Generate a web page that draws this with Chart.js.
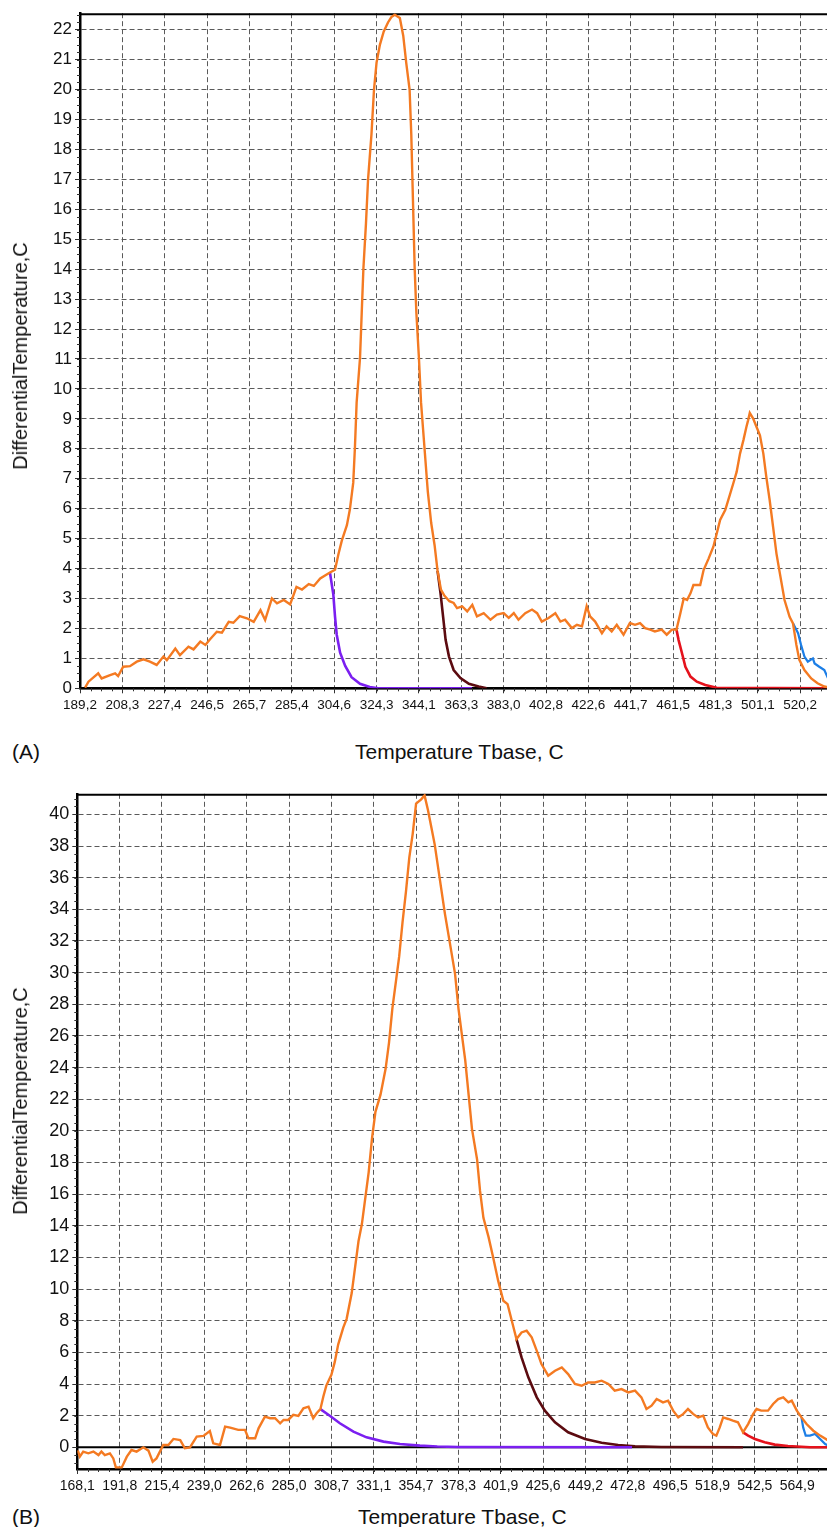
<!DOCTYPE html>
<html>
<head>
<meta charset="utf-8">
<script src="https://cdn.jsdelivr.net/npm/chart.js@4.4.1/dist/chart.umd.min.js"></script>
<style>
  html, body { margin: 0; padding: 0; background: #fff; overflow: hidden; }
  body { width: 827px; height: 1527px; position: relative; font-family: "Liberation Sans", Arial, sans-serif; color: #111; }
  canvas { position: absolute; left: 0; }
  .txt { position: absolute; white-space: nowrap; font-size: 21px; line-height: 1; }
  .ytitle { position: absolute; white-space: nowrap; font-size: 20px; line-height: 1; transform: translate(-50%, -50%) rotate(-90deg); }
</style>
</head>
<body>
<canvas id="chartA" width="830" height="725" style="top:0"></canvas>
<canvas id="chartB" width="830" height="725" style="top:780px"></canvas>

<div class="ytitle" style="left:20px; top:356px">DifferentialTemperature,C</div>
<div class="txt" style="left:12px; top:741px">(A)</div>
<div class="txt" style="left:355px; top:741px">Temperature Tbase, C</div>

<div class="ytitle" style="left:20px; top:1101px">DifferentialTemperature,C</div>
<div class="txt" style="left:12px; top:1506px">(B)</div>
<div class="txt" style="left:358px; top:1506px">Temperature Tbase, C</div>

<script>
// x values are sample positions in grid-step units; tick labels give Tbase at each step
const labelsA = ['189,2','208,3','227,4','246,5','265,7','285,4','304,6','324,3','344,1','363,3',
                 '383,0','402,8','422,6','441,7','461,5','481,3','501,1','520,2'];
const labelsB = ['168,1','191,8','215,4','239,0','262,6','285,0','308,7','331,1','354,7','378,3',
                 '401,9','425,6','449,2','472,8','496,5','518,9','542,5','564,9'];

// ---- panel A ----
const totalA = [[0.12,0.02],[0.2,0.22],[0.43,0.5],[0.51,0.33],[0.71,0.44],[0.83,0.5],[0.9,0.41],[1.02,0.72],
  [1.18,0.74],[1.34,0.89],[1.5,0.97],[1.65,0.89],[1.81,0.78],[1.97,1.06],[2.05,0.94],[2.25,1.33],[2.36,1.11],
  [2.56,1.39],[2.68,1.3],[2.84,1.56],[2.96,1.45],[3.07,1.64],[3.23,1.89],[3.35,1.86],[3.51,2.22],[3.62,2.19],
  [3.77,2.41],[3.94,2.34],[4.1,2.22],[4.26,2.61],[4.37,2.28],[4.53,3.0],[4.65,2.84],[4.81,2.95],[4.96,2.8],
  [5.11,3.39],[5.24,3.3],[5.4,3.48],[5.52,3.42],[5.67,3.67],[5.9,3.87],
  [6.02,3.96],[6.1,4.48],[6.18,4.93],[6.3,5.45],[6.37,5.97],[6.45,6.87],[6.49,8.06],[6.53,9.55],[6.61,11.04],
  [6.65,12.54],[6.69,14.03],[6.75,15.52],[6.8,17.01],[6.88,18.5],[6.94,20.0],[7.0,20.9],[7.08,21.5],[7.17,21.94],
  [7.27,22.24],[7.35,22.42],[7.43,22.5],[7.55,22.39],[7.63,21.8],[7.7,20.9],[7.78,20.0],[7.82,18.5],[7.86,16.27],
  [7.9,14.03],[7.94,12.54],[8.0,11.04],[8.05,9.55],[8.13,8.06],[8.21,6.57],[8.29,5.52],[8.37,4.78],[8.44,3.92],
  [8.52,3.3],[8.6,3.1],[8.72,2.91],[8.82,2.85],[8.9,2.68],[9.02,2.74],[9.14,2.57],[9.26,2.79],[9.37,2.4],
  [9.53,2.51],[9.69,2.29],[9.84,2.46],[10.0,2.51],[10.12,2.35],[10.24,2.51],[10.35,2.29],[10.51,2.51],
  [10.67,2.63],[10.79,2.51],[10.9,2.23],[11.06,2.35],[11.22,2.51],[11.34,2.23],[11.45,2.29],[11.61,2.01],
  [11.73,2.12],[11.85,2.07],[11.96,2.74],[12.04,2.4],[12.16,2.23],[12.32,1.84],[12.43,2.07],[12.55,1.9],
  [12.67,2.12],[12.83,1.79],[12.98,2.18],[13.1,2.12],[13.22,2.18],[13.34,2.01],[13.46,1.96],[13.57,1.9],
  [13.73,1.96],[13.85,1.79],[13.97,1.96],[14.08,1.96],
  [14.17,2.5],[14.25,3.0],[14.33,2.95],[14.41,3.17],[14.48,3.45],[14.64,3.45],[14.72,3.95],[14.84,4.34],
  [14.95,4.73],[15.03,5.17],[15.11,5.62],[15.23,5.95],[15.3,6.28],[15.42,6.84],[15.5,7.23],[15.58,7.84],
  [15.66,8.29],[15.73,8.73],[15.77,8.95],[15.81,9.2],[15.89,9.01],[15.97,8.73],[16.05,8.45],[16.13,7.84],
  [16.2,7.06],[16.28,6.28],[16.36,5.39],[16.44,4.5],[16.52,3.84],[16.63,2.95],[16.75,2.39],[16.83,2.17],
  [16.91,1.45],[16.98,0.95],[17.1,0.61],[17.26,0.33],[17.41,0.17],[17.57,0.06],[17.7,0.02]];
const peak1A = [[5.9,3.87],[5.98,3.13],[6.02,2.39],[6.06,1.79],[6.14,1.19],[6.26,0.75],[6.41,0.37],
  [6.61,0.15],[6.84,0.04],[7.04,0],[9.25,0]];
const peak2A = [[8.44,3.92],[8.51,3.18],[8.57,2.4],[8.63,1.62],[8.71,1.06],[8.82,0.61],[8.98,0.34],
  [9.18,0.15],[9.41,0.06],[9.6,0]];
const peak3A = [[14.08,1.96],[14.13,1.61],[14.21,1.17],[14.29,0.72],[14.41,0.39],[14.56,0.22],[14.76,0.11],
  [15.03,0.02],[17.7,0]];
const peak4A = [[16.83,2.17],[16.95,1.84],[17.02,1.45],[17.1,1.06],[17.18,0.89],[17.3,1.0],[17.34,0.83],
  [17.45,0.72],[17.57,0.61],[17.66,0.33],[17.72,0.1]];

// ---- panel B ----
const totalB = [[0,-0.2],[0.02,-0.27],[0.06,-0.59],[0.14,-0.27],[0.26,-0.38],[0.38,-0.27],[0.5,-0.49],
  [0.57,-0.27],[0.65,-0.49],[0.77,-0.38],[0.85,-0.7],[0.91,-1.27],[1.05,-1.27],[1.17,-0.59],[1.28,-0.17],
  [1.4,-0.27],[1.56,0],[1.68,-0.21],[1.78,-0.91],[1.87,-0.7],[2.03,0.15],[2.15,0.15],[2.27,0.53],[2.43,0.46],
  [2.54,-0.06],[2.66,0],[2.82,0.68],[2.98,0.72],[3.13,1.03],[3.21,0.25],[3.37,0.15],[3.49,1.31],[3.61,1.24],
  [3.8,1.1],[3.96,1.1],[4.04,0.57],[4.2,0.57],[4.28,1.2],[4.43,1.94],[4.55,1.84],[4.67,1.84],[4.79,1.52],
  [4.87,1.73],[4.98,1.73],[5.1,2.05],[5.22,1.98],[5.34,2.47],[5.46,2.57],[5.57,1.84],[5.65,2.15],[5.74,2.41],
  [5.81,3.21],[5.88,3.9],[6.0,4.58],[6.08,5.4],[6.16,6.49],[6.28,7.57],[6.36,8.12],[6.48,9.75],[6.56,11.39],
  [6.64,13.02],[6.72,14.11],[6.8,15.75],[6.88,17.38],[6.96,19.56],[7.04,21.2],[7.16,22.29],[7.28,23.92],
  [7.36,25.56],[7.44,27.74],[7.52,29.37],[7.6,31.01],[7.68,33.19],[7.76,35.1],[7.84,37.28],[7.92,38.77],
  [8.0,40.68],[8.12,40.95],[8.2,41.2],[8.28,40.27],[8.36,39.18],[8.44,38.09],[8.56,35.91],[8.68,33.73],
  [8.8,31.83],[8.92,29.92],[9.0,27.74],[9.08,26.1],[9.16,24.47],[9.24,22.29],[9.32,20.11],[9.44,18.2],
  [9.51,16.2],[9.59,14.5],[9.71,13.3],[9.82,12.0],[9.94,10.5],[10.06,9.26],[10.16,9.05],[10.26,8.0],
  [10.37,6.84],[10.49,7.26],[10.61,7.37],[10.73,6.95],[10.85,6.1],[10.96,5.26],[11.12,4.53],[11.28,4.84],
  [11.44,5.05],[11.59,4.63],[11.75,4.0],[11.91,3.89],[12.06,4.1],[12.22,4.1],[12.38,4.21],[12.54,4.0],
  [12.69,3.58],[12.85,3.68],[13.01,3.47],[13.17,3.58],[13.32,3.16],[13.44,2.42],[13.56,2.63],[13.68,3.05],
  [13.83,2.84],[13.95,2.95],[14.07,2.32],[14.19,1.89],[14.31,2.11],[14.42,2.42],[14.54,2.11],[14.66,1.89],
  [14.78,2.0],[14.89,1.26],[15.01,0.84],[15.09,0.74],[15.17,1.26],[15.25,1.89],[15.37,1.79],[15.48,1.68],
  [15.6,1.58],[15.72,0.95],[15.84,1.47],[15.96,2.11],[16.04,2.42],[16.15,2.32],[16.31,2.32],[16.43,2.74],
  [16.55,3.05],[16.67,3.16],[16.79,2.84],[16.87,2.95],[16.99,2.32],[17.1,1.89],[17.22,1.47],[17.38,1.05],
  [17.54,0.74],[17.74,0.42]];
const peak1B = [[5.74,2.41],[5.97,1.98],[6.2,1.52],[6.52,0.99],[6.83,0.63],[7.23,0.36],[7.62,0.21],
  [8.09,0.11],[8.5,0.05],[9.0,0.02],[13.1,0]];
const peak2B = [[10.37,6.84],[10.49,5.68],[10.65,4.42],[10.85,3.16],[11.04,2.32],[11.28,1.58],[11.59,0.95],
  [11.99,0.53],[12.38,0.29],[12.77,0.15],[13.17,0.06],[13.79,0.02],[15.72,0]];
const peak3B = [[15.72,0.95],[15.84,0.74],[16.0,0.53],[16.23,0.32],[16.47,0.17],[16.78,0.08],[17.1,0.04],
  [17.3,0],[17.74,0]];
const peak4B = [[17.1,1.89],[17.14,1.26],[17.2,0.74],[17.3,0.74],[17.42,0.84],[17.54,0.53],[17.66,0.21],[17.74,0.1]];

const colors = { total: '#f47a22', p1: '#7b1ff0', p2: '#5c0b10', p3: '#e5121c', p4: '#1c7ee6' };

// frame: top border, solid zero line and small minor ticks on both axes
const framePlugin = {
  id: 'frame',
  beforeDatasetsDraw(chart, args, opts) {
    const { ctx, chartArea: a, scales: { x, y } } = chart;
    ctx.save();
    ctx.strokeStyle = '#000';
    ctx.lineWidth = 2;
    ctx.beginPath();
    ctx.moveTo(a.left, a.top + 1);
    ctx.lineTo(a.right, a.top + 1);
    const y0 = y.getPixelForValue(0);
    ctx.moveTo(a.left, y0);
    ctx.lineTo(a.right, y0);
    ctx.stroke();

    ctx.strokeStyle = '#333';
    ctx.lineWidth = 1;
    ctx.beginPath();
    for (let v = 0; v <= x.max; v += opts.xMinor) {
      const px = Math.round(x.getPixelForValue(v)) + 0.5;
      ctx.moveTo(px, a.bottom);
      ctx.lineTo(px, a.bottom + 3);
    }
    for (let v = Math.ceil(y.min / opts.yMinor) * opts.yMinor; v <= y.max; v += opts.yMinor) {
      const py = Math.round(y.getPixelForValue(v)) + 0.5;
      ctx.moveTo(a.left - 3, py);
      ctx.lineTo(a.left, py);
    }
    ctx.stroke();
    ctx.restore();
  }
};

function series(pts, color, width, order) {
  return {
    data: pts.map(p => ({ x: p[0], y: p[1] })),
    borderColor: color, borderWidth: width, pointRadius: 0, tension: 0, fill: false, order: order
  };
}

function makeChart(id, o) {
  const font = { family: '"Liberation Sans", Arial, sans-serif' };
  const gridOpts = { color: '#5a5a5a', lineWidth: 1, tickLength: 5, tickColor: '#333' };
  return new Chart(document.getElementById(id), {
    type: 'line',
    data: {
      datasets: [
        series(o.total, colors.total, 2.4, 1),
        series(o.p1, colors.p1, 2.6, 2),
        series(o.p2, colors.p2, 2.6, 2),
        series(o.p3, colors.p3, 2.6, 2),
        series(o.p4, colors.p4, 2.2, 2)
      ]
    },
    options: {
      responsive: false,
      animation: false,
      layout: { padding: { top: o.padTop, left: 0, right: 1, bottom: 0 } },
      plugins: { legend: { display: false }, tooltip: { enabled: false },
                 frame: { xMinor: 0.25, yMinor: o.yMinor } },
      scales: {
        x: {
          type: 'linear', min: 0, max: o.xMax,
          afterBuildTicks: s => { s.ticks = o.labels.map((_, i) => ({ value: i })); },
          afterFit: s => { s.height = o.xAxisH; },
          ticks: { callback: v => o.labels[v] ?? '', maxRotation: 0, autoSkip: false, padding: 4,
                   color: '#111', font: { ...font, size: o.xFont } },
          grid: gridOpts,
          border: { display: true, color: '#000', width: 2.5, dash: [5, 3] }
        },
        y: {
          min: o.yMin, max: o.yMax,
          afterBuildTicks: s => { s.ticks = o.yTicks.map(v => ({ value: v })); },
          afterFit: s => { s.width = o.yAxisW; },
          ticks: { padding: 3, color: '#111', font: { ...font, size: o.yFont } },
          grid: gridOpts,
          border: { display: true, color: '#000', width: 2.5, dash: [5, 3] }
        }
      }
    },
    plugins: [framePlugin]
  });
}

const yTicksA = [0,1,2,3,4,5,6,7,8,9,10,11,12,13,14,15,16,17,18,19,20,21,22];
const yTicksB = [0,2,4,6,8,10,12,14,16,18,20,22,24,26,28,30,32,34,36,38,40];

makeChart('chartA', {
  total: totalA, p1: peak1A, p2: peak2A, p3: peak3A, p4: peak4A,
  labels: labelsA, xMax: 17.68, yMin: 0, yMax: 22.55, yTicks: yTicksA, yMinor: 0.25,
  padTop: 13, xAxisH: 36.7, yAxisW: 80, xFont: 13.5, yFont: 17
});
makeChart('chartB', {
  total: totalB, p1: peak1B, p2: peak2B, p3: peak3B, p4: peak4B,
  labels: labelsB, xMax: 17.75, yMin: -1.37, yMax: 41.3, yTicks: yTicksB, yMinor: 0.5,
  padTop: 12.7, xAxisH: 36, yAxisW: 77.3, xFont: 14, yFont: 18
});
</script>
</body>
</html>
